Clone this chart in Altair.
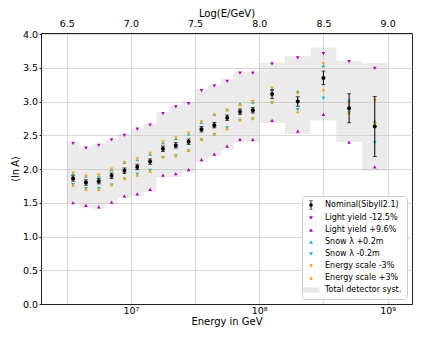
import altair as alt
import pandas as pd

# ---- data ----
edges = [6.5, 6.6, 6.7, 6.8, 6.9, 7.0, 7.1, 7.2, 7.3, 7.4, 7.5, 7.6, 7.7, 7.8, 7.9,
         8.0, 8.2, 8.4, 8.6, 8.8, 9.0]
nominal = [1.86, 1.80, 1.82, 1.90, 1.975, 2.03, 2.11, 2.30, 2.35, 2.405, 2.59, 2.65,
           2.76, 2.85, 2.87, 3.11, 3.00, 3.35, 2.90, 2.63]
nominal_err = [0.04, 0.04, 0.04, 0.04, 0.04, 0.04, 0.04, 0.04, 0.04, 0.04, 0.04, 0.04,
               0.04, 0.04, 0.04, 0.065, 0.07, 0.10, 0.215, 0.445]
ly_minus = [2.38, 2.31, 2.35, 2.43, 2.50, 2.59, 2.65, 2.82, 2.92, 2.97, 3.16, 3.23,
            3.30, 3.42, 3.42, 3.556, 3.645, 3.71, 3.59, 3.49]
ly_plus = [1.50, 1.46, 1.44, 1.51, 1.60, 1.63, 1.70, 1.91, 1.93, 1.99, 2.14, 2.22,
           2.34, 2.44, 2.44, 2.72, 2.56, 2.81, 2.40, 2.03]
snow_plus = [1.93, 1.90, 1.90, 1.99, 2.10, 2.14, 2.22, 2.39, 2.45, 2.52, 2.69, 2.81,
             2.88, 2.97, 2.99, 3.18, 3.15, 3.53, 3.02, 2.71]
snow_minus = [1.77, 1.71, 1.71, 1.76, 1.85, 1.92, 1.98, 2.17, 2.19, 2.27, 2.43, 2.51,
              2.61, 2.72, 2.74, 2.98, 2.88, 3.05, 2.83, 2.39]
e_minus = [1.94, 1.89, 1.91, 2.00, 2.09, 2.15, 2.23, 2.40, 2.46, 2.53, 2.70, 2.80,
           2.87, 2.94, 3.00, 3.20, 3.12, 3.556, 2.96, 3.01]
e_plus = [1.76, 1.70, 1.70, 1.77, 1.86, 1.91, 1.97, 2.18, 2.20, 2.28, 2.44, 2.52,
          2.60, 2.73, 2.76, 3.00, 2.85, 3.175, 2.83, 2.69]
box_hi = [2.40, 2.33, 2.37, 2.44, 2.52, 2.60, 2.67, 2.84, 2.94, 3.00, 3.185, 3.25,
          3.33, 3.44, 3.44, 3.57, 3.67, 3.80, 3.60, 3.57]
box_lo = [1.49, 1.43, 1.41, 1.48, 1.57, 1.595, 1.66, 1.88, 1.88, 1.96, 2.10, 2.19,
          2.28, 2.40, 2.40, 2.68, 2.52, 2.72, 2.40, 1.975]

top_ticks = [6.5, 7.0, 7.5, 8.0, 8.5, 9.0]
bottom_ticks = [1e7, 1e8, 1e9]
y_ticks = [0.0, 0.5, 1.0, 1.5, 2.0, 2.5, 3.0, 3.5, 4.0]

labels = ["Nominal(Sibyll2.1)", "Light yield -12.5%", "Light yield +9.6%",
          "Snow \u03bb +0.2m", "Snow \u03bb -0.2m", "Energy scale -3%",
          "Energy scale +3%", "Total detector syst."]
colors = ["#000000", "#bf00bf", "#bf00bf", "#00bfbf", "#00bfbf", "#ffa500",
          "#ffa500", "#e6e6e6"]
errbar_path = ("M-0.22,-2.3H0.22V2.3H-0.22Z M-0.9,-2.3H0.9V-2.05H-0.9Z "
               "M-0.9,2.05H0.9V2.3H-0.9Z M0.9,0A0.9,0.9,0,1,1,-0.9,0A0.9,0.9,0,1,1,0.9,0Z")
rect_path = "M-4.2,-1.3H4.2V1.3H-4.2Z"
shapes = [errbar_path, "triangle-down", "triangle-up", "triangle-up", "triangle-down",
          "triangle-down", "triangle-up", rect_path]

# ---- tables ----
lo = edges[:-1]
hi = edges[1:]
center = [(a + b) / 2 for a, b in zip(lo, hi)]
bins = pd.DataFrame({
    "E": [10 ** c for c in center],
    "logE": center,
    "E_lo": [10 ** v for v in lo],
    "E_hi": [10 ** v for v in hi],
    "box_lo": box_lo,
    "box_hi": box_hi,
    "nom": nominal,
    "nom_lo": [n - e for n, e in zip(nominal, nominal_err)],
    "nom_hi": [n + e for n, e in zip(nominal, nominal_err)],
})

series = {
    labels[1]: ly_minus, labels[2]: ly_plus, labels[3]: snow_plus,
    labels[4]: snow_minus, labels[5]: e_minus, labels[6]: e_plus,
}
rows = []
for name, vals in series.items():
    for e, v in zip(bins["E"], vals):
        rows.append({"E": e, "val": v, "series": name})
pts = pd.DataFrame(rows)

xdom = [10 ** 6.3, 10 ** 9.19]
xscale = alt.Scale(type="log", domain=xdom, nice=False)
yscale = alt.Scale(domain=[0, 4.015], nice=False, zero=False)

xaxis = alt.Axis(values=bottom_ticks, grid=False, title="Energy in GeV",
                 tickSize=0, labelPadding=1, titlePadding=2,
                 labelExpr="datum.value == 1e7 ? '10\u2077' : datum.value == 1e8 ? '10\u2078' : '10\u2079'")
yaxis = alt.Axis(values=y_ticks, format=".1f", grid=True, title="\u27e8ln\u2009A\u27e9",
                 tickSize=2, labelPadding=1.5, titlePadding=2)


def Y(field):
    return alt.Y(field, scale=yscale, axis=yaxis)


def X(field):
    return alt.X(field, scale=xscale, axis=xaxis)


boxes = alt.Chart(bins).mark_rect(color="#bdbdbd", opacity=0.3).encode(
    x=X("E_lo:Q"), x2="E_hi:Q", y=Y("box_lo:Q"), y2="box_hi:Q",
)

points = alt.Chart(pts).mark_point(filled=True, size=14, opacity=1).encode(
    x=X("E:Q"),
    y=Y("val:Q"),
    color=alt.Color("series:N", scale=alt.Scale(domain=labels, range=colors),
                    legend=alt.Legend(title=None)),
    shape=alt.Shape("series:N", scale=alt.Scale(domain=labels, range=shapes),
                    legend=alt.Legend(title=None)),
)

err = alt.Chart(bins).mark_rule(color="black", strokeWidth=1).encode(
    x=X("E:Q"), y=Y("nom_lo:Q"), y2="nom_hi:Q",
)
cap_lo = alt.Chart(bins).mark_tick(color="black", orient="horizontal", size=4, thickness=1).encode(
    x=X("E:Q"), y=Y("nom_lo:Q"),
)
cap_hi = alt.Chart(bins).mark_tick(color="black", orient="horizontal", size=4, thickness=1).encode(
    x=X("E:Q"), y=Y("nom_hi:Q"),
)
nom = alt.Chart(bins).mark_circle(color="black", size=16, opacity=1).encode(
    x=X("E:Q"), y=Y("nom:Q"),
)

main = alt.layer(boxes, points, err, cap_lo, cap_hi, nom)

top = alt.Chart(bins).mark_point(opacity=0).encode(
    x=alt.X("logE:Q", scale=alt.Scale(domain=[6.3, 9.19], nice=False, zero=False),
            axis=alt.Axis(orient="top", values=top_ticks, format=".1f", grid=True,
                          title="Log(E/GeV)", titlePadding=0, tickSize=0,
                          labelPadding=5)),
    y=Y("nom:Q"),
)

chart = alt.layer(main, top).resolve_scale(x="independent").properties(
    width=371, height=271,
    autosize=alt.AutoSizeParams(type="none"),
    padding={"left": 33, "top": 25, "right": 4, "bottom": 32},
).configure_view(
    stroke="#222222", strokeWidth=1
).configure_axis(
    labelFont="DejaVu Sans", labelFontSize=9.5, labelColor="#000000",
    titleFont="DejaVu Sans", titleFontSize=10, titleFontWeight="normal",
    titleColor="#000000", tickColor="#222222", domainColor="#222222",
    gridColor="#cfcfcf", gridWidth=0.8,
).configure_legend(
    orient="bottom-right", offset=5, padding=5, fillColor="white",
    strokeColor="#cccccc", cornerRadius=3, labelFont="DejaVu Sans",
    labelFontSize=8, labelColor="#000000", symbolSize=16, rowPadding=4,
    labelOffset=10, symbolStrokeWidth=0,
)

chart.save("out.html", embed_options={"renderer": "svg", "actions": False})
